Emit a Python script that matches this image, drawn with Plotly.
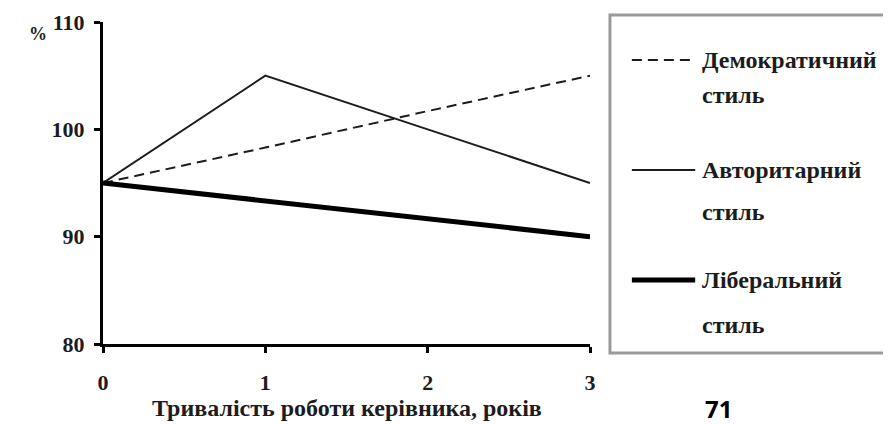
import plotly.graph_objects as go

years = [0, 1, 2, 3]
democratic = [95.0, 98.3, 101.7, 105.0]
authoritarian = [95.0, 105.0, 100.0, 95.0]
liberal = [95.0, 93.3, 91.7, 90.0]

legend_lines = [("Демократичний", "стиль"), ("Авторитарний", "стиль"), ("Ліберальний", "стиль")]
y_ticks = [80, 90, 100, 110]
x_title = "Тривалість роботи керівника, років"
page_no = "71"

SERIF = "Liberation Serif, Times New Roman, DejaVu Serif, serif"
INK = "#1c1c1c"
serif_font = lambda size: dict(family=SERIF, size=size, color=INK, weight="bold")

styles = [dict(color=INK, width=2, dash="10px,6px"),
          dict(color=INK, width=2),
          dict(color="black", width=5)]

fig = go.Figure()
for ys, st in zip([democratic, authoritarian, liberal], styles):
    fig.add_trace(go.Scatter(x=years, y=ys, mode="lines", line=st, hoverinfo="skip"))

# legend drawn by hand inside a grey frame, as in the scan
fig.add_shape(type="rect", xref="paper", yref="paper",
              x0=1.041, x1=1.62, y0=-0.028, y1=1.022,
              line=dict(color="#9a9a9a", width=3))
item_y = [(0.882, 0.773), (0.540, 0.410), (0.199, 0.059)]
for (first, second), st, (y1, y2) in zip(legend_lines, styles, item_y):
    fig.add_shape(type="line", xref="paper", yref="paper",
                  x0=1.086, x1=1.216, y0=y1, y1=y1, line=st)
    for txt, yy in [(first, y1), (second, y2)]:
        fig.add_annotation(xref="paper", yref="paper", x=1.226, y=yy, text=txt,
                           showarrow=False, xanchor="left", yanchor="middle",
                           font=serif_font(24))

fig.add_annotation(xref="paper", yref="paper", x=-0.133, y=0.963, text="%",
                   showarrow=False, xanchor="center", yanchor="middle", font=serif_font(18))
fig.add_annotation(xref="paper", yref="paper", x=0.5, y=-0.199, text=x_title,
                   showarrow=False, xanchor="center", yanchor="middle", font=serif_font(24))
fig.add_annotation(xref="paper", yref="paper", x=1.263, y=-0.199, text=page_no,
                   showarrow=False, xanchor="center", yanchor="middle",
                   font=dict(family="Noto Sans", size=24, color="black", weight="bold"))

fig.update_xaxes(range=[0, 3], tickvals=years, ticks="outside", ticklen=6, tickwidth=3,
                 tickcolor="black", showline=True, linewidth=3, linecolor="black",
                 showgrid=False, zeroline=False, ticklabelstandoff=11, automargin=False,
                 tickfont=serif_font(22))
fig.update_yaxes(range=[80, 110], tickvals=y_ticks, ticks="outside", ticklen=6, tickwidth=3,
                 tickcolor="black", showline=True, linewidth=3, linecolor="black",
                 showgrid=False, zeroline=False, ticklabelstandoff=5, automargin=False,
                 tickfont=serif_font(22))

fig.update_layout(width=891, height=424, showlegend=False,
                  margin=dict(l=95, r=309, t=14, b=88),
                  plot_bgcolor="white", paper_bgcolor="white",
                  font=dict(family=SERIF, color=INK))

fig.write_html("out.html")
